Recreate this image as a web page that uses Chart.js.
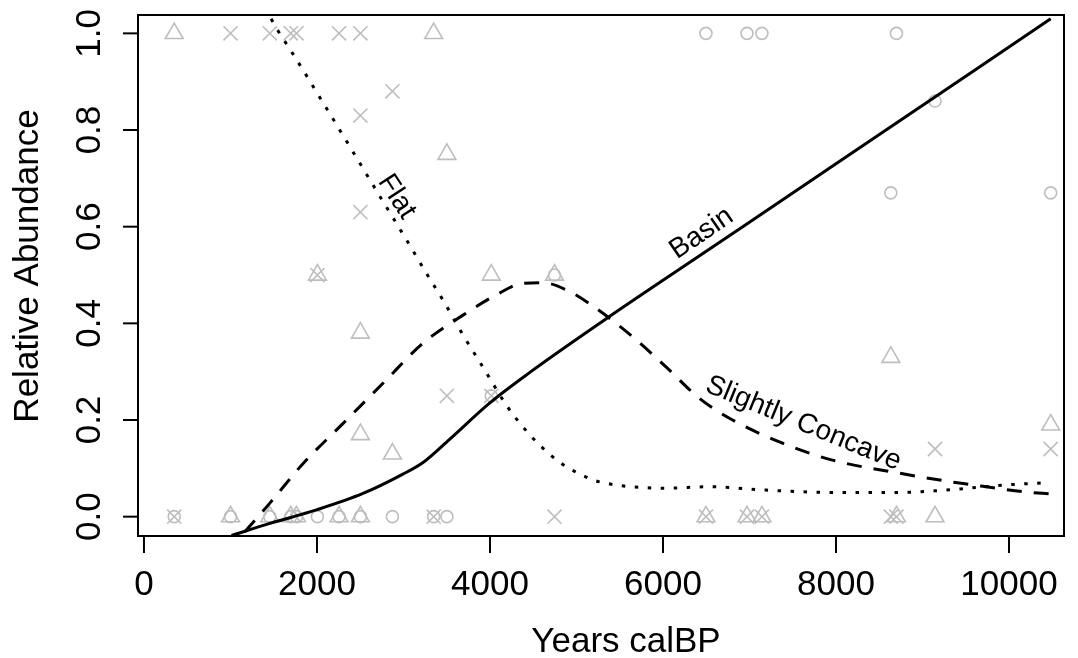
<!DOCTYPE html>
<html>
<head>
<meta charset="utf-8">
<title>Relative Abundance</title>
<script src="https://cdn.jsdelivr.net/npm/chart.js@4/dist/chart.umd.min.js"></script>
<style>
  html, body { margin: 0; padding: 0; background: #fff; }
  #chart { display: block; }
</style>
</head>
<body>
<canvas id="chart" width="1078" height="658"></canvas>
<script>
// sample points (grey symbols), one list per taxon
const triangleYears = [350, 1001, 1455, 1697, 1763, 2005, 2255, 2502, 2502, 2502, 2872, 3349, 3502, 4015, 4746, 6497, 6971, 7144, 8634, 8699, 9145, 10482];
const triangleValues = [1.0, 0, 0, 0, 0, 0.5, 0, 0.38, 0.17, 0, 0.13, 1.0, 0.75, 0.5, 0.5, 0, 0, 0, 0.33, 0, 0, 0.19];

const crossYears = [350, 1001, 1455, 1697, 1763, 2005, 2255, 2502, 2502, 2502, 2872, 3349, 3502, 4015, 4746, 6497, 6971, 7144, 8634, 8699, 9145, 10482];
const crossValues = [0, 1, 1, 1, 1, 0.5, 1, 1, 0.83, 0.63, 0.88, 0, 0.25, 0.25, 0, 0, 0, 0, 0, 0, 0.14, 0.14];

const circleYears = [350, 1001, 1455, 1697, 1763, 2005, 2255, 2502, 2872, 3349, 3502, 4015, 4746, 6497, 6971, 7144, 8634, 8699, 9145, 10482];
const circleValues = [0, 0, 0, 0, 0, 0, 0, 0, 0, 0, 0, 0.25, 0.5, 1, 1, 1, 0.67, 1, 0.86, 0.67];

// fitted curves
const basinYears = [1012, 1455, 1994, 2532, 2994, 3226, 3533, 3995, 4457, 5381, 6500, 8000, 10482];
const basinValues = [-0.039, -0.014, 0.014, 0.048, 0.088, 0.112, 0.16, 0.235, 0.298, 0.414, 0.549, 0.73, 1.03];

const concaveYears = [1166, 1455, 1840, 2302, 2763, 3226, 3688, 4073, 4380, 4611, 4919, 5227, 5650, 6035, 6420, 6805, 7382, 7959, 8730, 9261, 9573, 9885, 10196, 10482];
const concaveValues = [-0.031, 0.028, 0.11, 0.193, 0.276, 0.359, 0.417, 0.459, 0.483, 0.484, 0.466, 0.431, 0.372, 0.31, 0.245, 0.2, 0.152, 0.117, 0.09, 0.074, 0.066, 0.058, 0.051, 0.047];

const flatYears = [1470, 1551, 1717, 2052, 2379, 2706, 3034, 3284, 3457, 3688, 3938, 4188, 4380, 4592, 4842, 5112, 5266, 6035, 6536, 7190, 7959, 8730, 9192, 9538, 10000, 10400];
const flatValues = [1.03, 1.005, 0.959, 0.862, 0.766, 0.669, 0.573, 0.498, 0.448, 0.376, 0.304, 0.231, 0.186, 0.145, 0.108, 0.082, 0.072, 0.059, 0.062, 0.055, 0.05, 0.05, 0.054, 0.059, 0.066, 0.07];

const xTicks = [0, 2000, 4000, 6000, 8000, 10000];
const yTicks = [0, 0.2, 0.4, 0.6, 0.8, 1.0];
const yTickLabels = ["0.0", "0.2", "0.4", "0.6", "0.8", "1.0"];

const curveNames = ["Basin", "Slightly Concave", "Flat"];

const FONT = "'Liberation Sans', Arial, Helvetica, sans-serif";
const GREY = "#bebebe";

function toXY(xs, ys) {
  return xs.map((x, i) => ({ x: x, y: ys[i] }));
}

function curveDataset(xs, ys, dash) {
  return {
    data: toXY(xs, ys),
    showLine: true,
    borderColor: "#000",
    borderWidth: 3,
    borderDash: dash,
    pointRadius: 0,
    cubicInterpolationMode: "monotone"
  };
}

function pointDataset(xs, ys, style, radius) {
  return {
    data: toXY(xs, ys),
    showLine: false,
    pointStyle: style,
    pointRadius: radius,
    pointBorderColor: GREY,
    pointBackgroundColor: "rgba(0,0,0,0)",
    pointBorderWidth: 1.6
  };
}

// where the curve names sit, in data units, and their tilt
const labelSpots = [
  { x: 6447, y: 0.586, angle: -34.4 },
  { x: 7622, y: 0.193, angle: 22.3 },
  { x: 2921, y: 0.662, angle: 57 }
];

const baseAxes = {
  id: "baseAxes",
  afterDraw(chart) {
    const { ctx, chartArea: a, scales: { x, y } } = chart;
    ctx.save();
    ctx.strokeStyle = "#000";
    ctx.fillStyle = "#000";
    ctx.lineWidth = 2;
    ctx.strokeRect(a.left, a.top, a.right - a.left, a.bottom - a.top);

    ctx.font = "35px " + FONT;
    ctx.textAlign = "center";
    ctx.textBaseline = "alphabetic";

    xTicks.forEach(v => {
      const px = x.getPixelForValue(v);
      ctx.beginPath();
      ctx.moveTo(px, a.bottom);
      ctx.lineTo(px, a.bottom + 17);
      ctx.stroke();
      ctx.fillText(String(v), px, a.bottom + 59);
    });

    yTicks.forEach((v, i) => {
      const py = y.getPixelForValue(v);
      ctx.beginPath();
      ctx.moveTo(a.left, py);
      ctx.lineTo(a.left - 15, py);
      ctx.stroke();
      ctx.save();
      ctx.translate(a.left - 38, py);
      ctx.rotate(-Math.PI / 2);
      ctx.fillText(yTickLabels[i], 0, 0);
      ctx.restore();
    });

    ctx.fillText("Years calBP", 626, 652);
    ctx.save();
    ctx.translate(38, 266);
    ctx.rotate(-Math.PI / 2);
    ctx.fillText("Relative Abundance", 0, 0);
    ctx.restore();

    ctx.font = "28px " + FONT;
    ctx.textBaseline = "middle";
    labelSpots.forEach((s, i) => {
      ctx.save();
      ctx.translate(x.getPixelForValue(s.x), y.getPixelForValue(s.y));
      ctx.rotate(s.angle * Math.PI / 180);
      ctx.fillText(curveNames[i], 0, 0);
      ctx.restore();
    });
    ctx.restore();
  }
};

document.addEventListener("DOMContentLoaded", () => {
  const ctx = document.getElementById("chart").getContext("2d");
  new Chart(ctx, {
    type: "scatter",
    data: {
      datasets: [
        curveDataset(basinYears, basinValues, []),
        curveDataset(concaveYears, concaveValues, [15, 12]),
        curveDataset(flatYears, flatValues, [3.5, 9.5]),
        pointDataset(triangleYears, triangleValues, "triangle", 10.3),
        pointDataset(crossYears, crossValues, "crossRot", 10),
        pointDataset(circleYears, circleValues, "circle", 6)
      ]
    },
    options: {
      responsive: false,
      devicePixelRatio: 1,
      animation: false,
      layout: { padding: { left: 138, right: 14, top: 15, bottom: 122 } },
      scales: {
        x: { type: "linear", display: false, min: -69, max: 10636 },
        y: { type: "linear", display: false, min: -0.04, max: 1.038 }
      },
      plugins: {
        legend: { display: false },
        tooltip: { enabled: false }
      }
    },
    plugins: [baseAxes]
  });
});
</script>
</body>
</html>
